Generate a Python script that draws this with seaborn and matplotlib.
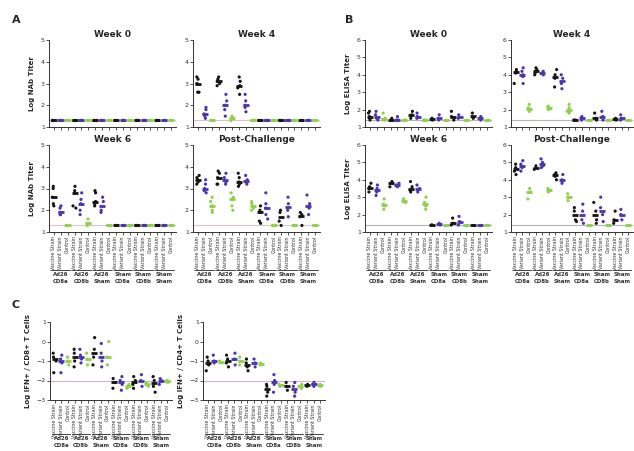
import numpy as np
import pandas as pd
import seaborn as sns
import matplotlib
matplotlib.use("Agg")
import matplotlib.pyplot as plt
import matplotlib.transforms as mtrans

# groups (vaccine / depletion) and the three readouts per group
groups = ["Ad26\nCD8a", "Ad26\nCD8b", "Ad26\nSham", "Sham\nCD8a", "Sham\nCD8b", "Sham\nSham"]
sub_names = ["Vaccine Strain", "Variant Strain", "Control"]
colors = ["#151515", "#4a34b0", "#8fd14a"]

LOD = [1.3, 1.3, 1.3]

nab_week0 = [LOD, LOD, LOD, LOD, LOD, LOD, LOD, LOD, LOD,
             LOD, LOD, LOD, LOD, LOD, LOD, LOD, LOD, LOD]
nab_week4 = [[3.3, 3.2, 3.0, 2.6, 2.6], [1.9, 1.8, 1.6, 1.5, 1.4], [1.3, 1.3, 1.3],
             [3.3, 3.2, 3.1, 3.0, 2.9], [2.5, 2.2, 2.0, 1.8, 1.5], [1.5, 1.4, 1.3],
             [3.3, 3.1, 2.9, 2.8, 2.5], [2.5, 2.2, 2.0, 1.9, 1.7], [1.3, 1.3, 1.3],
             LOD, LOD, LOD, LOD, LOD, LOD, LOD, LOD, LOD]
nab_week6 = [[3.1, 3.0, 2.6, 2.3, 2.2], [2.2, 2.1, 1.9, 1.8, 1.8], [1.3, 1.3, 1.3],
             [3.1, 2.9, 2.8, 2.2, 2.1], [2.8, 2.5, 2.3, 2.0, 1.8], [1.6, 1.4, 1.3],
             [2.9, 2.8, 2.4, 2.3, 2.2], [2.6, 2.4, 2.0, 1.9], [1.3, 1.3, 1.3],
             LOD, LOD, LOD, LOD, LOD, LOD, LOD, LOD, LOD]
nab_post = [[3.6, 3.5, 3.4, 3.3, 3.2], [3.4, 3.2, 3.0, 2.9, 2.8], [2.6, 2.4, 2.2, 2.0, 1.9],
            [3.8, 3.7, 3.5, 3.2, 3.2], [3.7, 3.5, 3.3, 3.2], [2.8, 2.6, 2.5, 2.2, 2.0],
            [3.7, 3.5, 3.3, 3.2, 3.1], [3.6, 3.4, 3.3, 3.2], [2.4, 2.3, 2.1, 2.0],
            [2.2, 2.0, 1.9, 1.5, 1.4], [2.8, 2.3, 2.1, 1.8, 1.6], [1.3, 1.3, 1.3],
            [2.0, 1.9, 1.5, 1.3], [2.6, 2.3, 2.0, 1.7], [1.3, 1.3, 1.3],
            [1.9, 1.8, 1.7, 1.3], [2.7, 2.3, 2.1, 1.8], [1.3, 1.3, 1.3]]

elisa_week0 = [[1.9, 1.8, 1.6, 1.5, 1.4], [1.9, 1.7, 1.5, 1.4], [1.8, 1.5, 1.4, 1.4],
               [1.5, 1.4, 1.4], [1.6, 1.4, 1.4], [1.4, 1.4],
               [1.9, 1.7, 1.5], [1.8, 1.6, 1.5], [1.4, 1.4],
               [1.5, 1.4], [1.7, 1.5, 1.4], [1.4],
               [1.9, 1.6, 1.4], [1.7, 1.5], [1.4],
               [1.8, 1.5], [1.6, 1.4], [1.4]]
elisa_week4 = [[4.3, 4.2, 4.1, 3.5], [4.4, 4.2, 4.0, 3.9, 3.5], [2.3, 2.1, 2.0, 1.9],
               [4.4, 4.3, 4.1, 4.0], [4.2, 4.1, 4.0], [2.2, 2.1, 2.0],
               [4.3, 4.0, 3.8, 3.3], [4.0, 3.8, 3.5, 3.2], [2.3, 2.1, 1.9, 1.8],
               [1.4, 1.4], [1.6, 1.5, 1.4], [1.4],
               [1.8, 1.5, 1.4], [1.9, 1.6, 1.4], [1.4],
               [1.5, 1.4], [1.7, 1.5, 1.4], [1.4]]
elisa_week6 = [[3.8, 3.6, 3.5, 3.3], [3.7, 3.5, 3.3, 3.1], [2.9, 2.6, 2.5, 2.3],
               [3.9, 3.8, 3.6], [3.8, 3.7, 3.6], [2.9, 2.8, 2.7],
               [3.9, 3.6, 3.4, 3.3], [3.7, 3.5, 3.3], [3.0, 2.7, 2.5, 2.3],
               [1.4, 1.4], [1.5, 1.4], [1.4],
               [1.8, 1.5, 1.4], [1.9, 1.6, 1.4], [1.4],
               [1.4], [1.4], [1.4]]
elisa_post = [[4.9, 4.7, 4.5, 4.3], [5.1, 4.9, 4.7, 4.5], [3.5, 3.3, 2.9],
              [4.8, 4.6], [5.2, 5.0, 4.8, 4.7], [3.5, 3.4, 3.3],
              [4.4, 4.3, 4.2, 4.0], [4.3, 4.0, 3.8], [3.2, 3.0, 2.8],
              [2.4, 2.2, 1.7, 1.6], [2.6, 2.2, 1.7, 1.5], [1.4],
              [2.7, 2.2, 1.7, 1.5], [3.0, 2.4, 2.0, 1.6], [1.4],
              [2.2, 1.7, 1.5], [2.3, 2.0, 1.7], [1.4]]

ifn_cd8 = [[-0.6, -0.8, -1.0, -1.6], [-0.7, -0.9, -1.1, -1.6], [-0.8, -1.0, -1.2],
           [-0.4, -0.6, -1.0, -1.3], [-0.4, -0.7, -0.9, -1.1], [-0.6, -0.9, -1.2],
           [0.2, -0.4, -0.8, -1.2], [-0.1, -0.6, -1.0, -1.3], [0.0, -0.8, -1.2],
           [-1.9, -2.1, -2.4], [-1.8, -2.0, -2.2, -2.5], [-2.2, -2.4],
           [-1.8, -2.0, -2.2, -2.4], [-1.7, -2.0, -2.3], [-2.1, -2.3],
           [-1.8, -2.0, -2.3, -2.6], [-1.9, -2.0, -2.2], [-2.0, -2.1]]
ifn_cd4 = [[-0.8, -1.0, -1.2, -1.5], [-0.7, -1.0, -1.1], [-1.0, -1.1],
           [-0.7, -0.9, -1.1, -1.3], [-0.6, -0.9, -1.2], [-0.8, -1.0, -1.2],
           [-0.9, -1.1, -1.3, -1.5], [-0.9, -1.1, -1.3], [-1.1, -1.2],
           [-2.2, -2.3, -2.6, -2.8], [-1.7, -2.0, -2.2, -2.6], [-2.2, -2.3],
           [-2.1, -2.3, -2.5], [-2.1, -2.3, -2.6, -2.8], [-2.2, -2.4],
           [-2.2, -2.3], [-2.1, -2.2, -2.3], [-2.2, -2.3]]

col_keys = [g.replace("\n", " ") + "|" + s for g in groups for s in sub_names]

sns.set_style("ticks")
plt.rcParams["font.family"] = ["DejaVu Sans"]

W, H = 634, 451
fig = plt.figure(figsize=(W / 100, H / 100), dpi=100)


def rect(x0, y0, x1, y1):
    return [x0 / W, 1 - y1 / H, (x1 - x0) / W, (y1 - y0) / H]


def draw(box, values, ylim, lod, lod_color, title=None, ylabel=None, labels=False, label_off=38):
    ax = fig.add_axes(rect(*box))
    rows = []
    for i, vals in enumerate(values):
        for v in vals:
            rows.append({"col": col_keys[i], "sub": sub_names[i % 3], "val": v})
    df = pd.DataFrame(rows)
    ax.axhline(lod, color=lod_color, lw=0.8, zorder=0)
    sns.stripplot(data=df, x="col", y="val", hue="sub", order=col_keys, hue_order=sub_names,
                  palette=colors, size=2.3, jitter=0.22, linewidth=0, legend=False, ax=ax, zorder=3)
    sns.pointplot(data=df, x="col", y="val", hue="sub", order=col_keys, hue_order=sub_names,
                  palette=colors, estimator="median", errorbar=None, marker="_", markersize=5,
                  linestyle="none", legend=False, ax=ax)
    ax.set_xlim(-0.7, 17.7)
    ax.set_ylim(*ylim)
    ax.set_yticks(np.arange(ylim[0], ylim[1] + 1))
    sns.despine(ax=ax)
    for s in ["left", "bottom"]:
        ax.spines[s].set_linewidth(0.7)
        ax.spines[s].set_color("#333333")
    ax.tick_params(axis="both", length=2, width=0.6, labelsize=4.5, pad=1, colors="#333333")
    ax.set_xlabel("")
    ax.set_ylabel(ylabel if ylabel else "", fontsize=5, fontweight="bold", labelpad=4)
    ax.set_xticks(range(18))
    if labels:
        ax.set_xticklabels([sub_names[i % 3] for i in range(18)], rotation=90, fontsize=3.4)
        line_tr = mtrans.offset_copy(ax.get_xaxis_transform(), fig=fig, y=-label_off, units="dots")
        for g, name in enumerate(groups):
            ax.plot([g * 3 - 0.35, g * 3 + 2.35], [0, 0], color="#444444", lw=0.7,
                    transform=line_tr, clip_on=False)
            ax.annotate(name, xy=(g * 3 + 1, 0), xycoords=ax.get_xaxis_transform(),
                        xytext=(0, -label_off - 2), textcoords="offset pixels",
                        ha="center", va="top", fontsize=3.9, fontweight="bold",
                        linespacing=1.6, color="#333333")
    else:
        ax.set_xticklabels([])
    if title:
        ax.set_title(title, fontsize=6.5, fontweight="bold", pad=2)
    return ax


# Panel A: neutralizing antibody titers
draw((49, 40, 176, 127), nab_week0, (1, 5), 1.3, "#d9c6c6", "Week 0", "Log NAb Titer")
draw((193, 40, 320, 127), nab_week4, (1, 5), 1.3, "#d9c6c6", "Week 4")
draw((49, 145, 176, 232), nab_week6, (1, 5), 1.3, "#d9c6c6", "Week 6", "Log NAb Titer", True)
draw((193, 145, 320, 232), nab_post, (1, 5), 1.3, "#d9c6c6", "Post-Challenge", None, True)

# Panel B: ELISA titers
draw((365, 40, 492, 127), elisa_week0, (1, 6), 1.4, "#b5b5b5", "Week 0", "Log ELISA Titer")
draw((511, 40, 633, 127), elisa_week4, (1, 6), 1.4, "#b5b5b5", "Week 4")
draw((365, 145, 492, 232), elisa_week6, (1, 6), 1.4, "#b5b5b5", "Week 6", "Log ELISA Titer", True)
draw((511, 145, 633, 232), elisa_post, (1, 6), 1.4, "#b5b5b5", "Post-Challenge", None, True)

# Panel C: IFN+ T cells
draw((50, 322, 172, 400), ifn_cd8, (-3, 1), -2, "#cfb3cf", None, "Log IFN+ / CD8+ T Cells", True, 34)
draw((203, 322, 325, 400), ifn_cd4, (-3, 1), -2, "#cfb3cf", None, "Log IFN+ / CD4+ T Cells", True, 34)

for letter, x, y in [("A", 12, 20), ("B", 345, 20), ("C", 12, 305)]:
    fig.text(x / W, 1 - y / H, letter, fontsize=8, fontweight="bold", va="center")

fig.savefig("out.png", dpi=100)
